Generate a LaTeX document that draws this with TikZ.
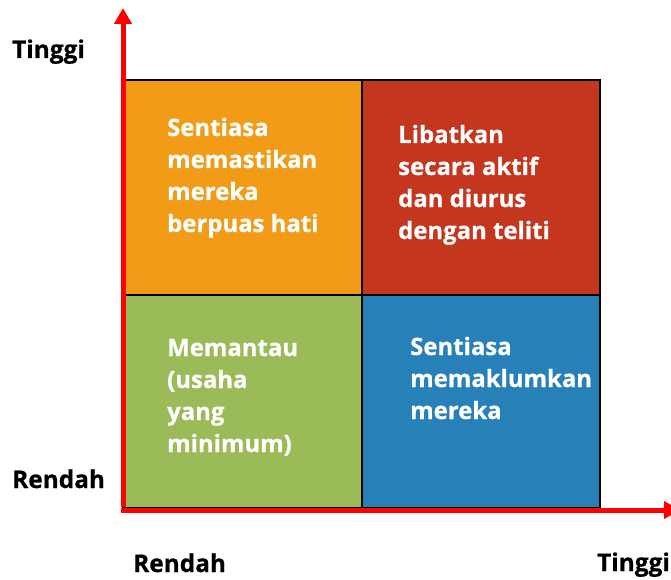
\documentclass[tikz,border=0pt]{standalone}
\usepackage{fontspec}
\setmainfont{Open Sans}[BoldFeatures={FakeBold=0.6}]
\usetikzlibrary{arrows.meta}
\definecolor{cOrange}{RGB}{242,155,22}
\definecolor{cRed}{RGB}{196,54,29}
\definecolor{cGreen}{RGB}{155,187,89}
\definecolor{cBlue}{RGB}{40,128,185}
\definecolor{axisred}{RGB}{255,0,0}
\newcommand\celllines[1]{\vtop{\baselineskip=32bp\halign{##\hfil\cr #1\crcr}}}
\begin{document}
\begin{tikzpicture}[x=1bp,y=-1bp,
  cell/.style={draw=black,line width=1.5bp},
  celltxt/.style={anchor=base west,inner sep=0pt,text=white,font=\bfseries\fontsize{24}{32}\selectfont},
  axlabel/.style={anchor=base west,inner sep=0pt,text=black,font=\bfseries\fontsize{24.5}{26}\selectfont},
  axis/.style={draw=axisred,line width=5bp,-{Triangle[length=16bp,width=17bp]}}]
\useasboundingbox (0,0) rectangle (671,580);
\fill[white] (0,0) rectangle (671,580);
% cells
\filldraw[cell,fill=cOrange] (123,80) rectangle (362,295);
\filldraw[cell,fill=cRed] (362,80) rectangle (600,295);
\filldraw[cell,fill=cGreen] (123,295) rectangle (362,508);
\filldraw[cell,fill=cBlue] (362,295) rectangle (600,508);
% texts
\node[celltxt] (tl) at (167,136) {\celllines{Sentiasa\cr memastikan\cr mereka\cr berpuas hati}};
\node[celltxt] (tr) at (398,143) {\celllines{Libatkan\cr secara aktif\cr dan diurus\cr dengan teliti}};
\node[celltxt] (bl) at (167,356) {\celllines{Memantau\cr (usaha\cr yang\cr minimum)}};
\node[celltxt] (br) at (410,355) {\celllines{Sentiasa\cr memaklumkan\cr mereka}};
% axes
\coordinate (origin) at (123,510);
\coordinate (ytip) at (123,8);
\coordinate (xtip) at (680,510);
\draw[axis] ([yshift=3bp]origin) -- (ytip);
\draw[axis] ([xshift=-2.5bp]origin) -- (xtip);
% labels
\node[axlabel] (yhigh) at (12,58) {Tinggi};
\node[axlabel] (ylow) at (12,488) {Rendah};
\node[axlabel] (xlow) at (133,572) {Rendah};
\node[axlabel] (xhigh) at (597,571) {Tinggi};
\end{tikzpicture}
\end{document}
